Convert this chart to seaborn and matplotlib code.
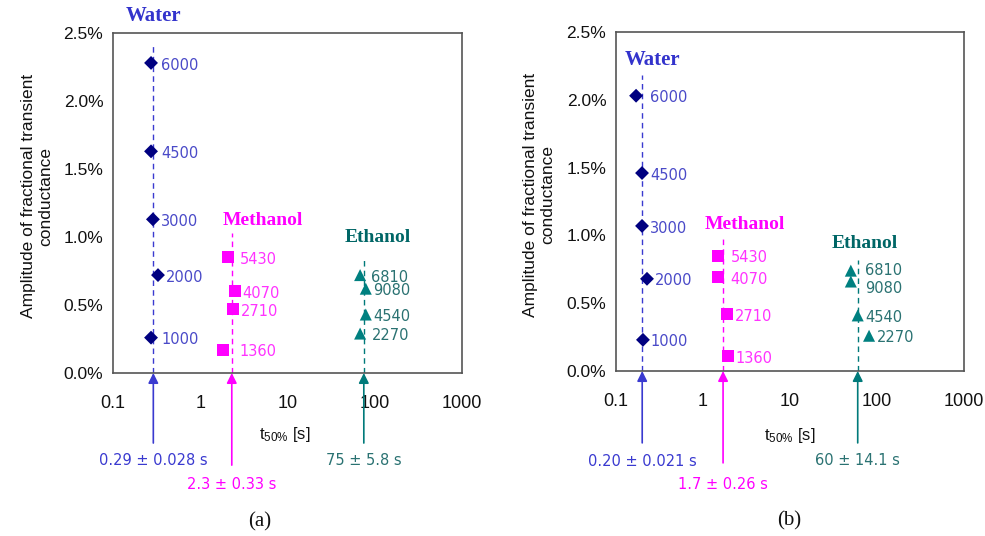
import numpy as np
import pandas as pd
import matplotlib
matplotlib.use('Agg')
import matplotlib.pyplot as plt
import seaborn as sns
from matplotlib.ticker import FixedLocator, FuncFormatter, NullLocator

# ---------------- data ----------------
solvents = ['Water', 'Methanol', 'Ethanol']

# Panel (a)
a_water_t = [0.273, 0.273, 0.287, 0.328, 0.273]
a_water_amp = [2.28, 1.63, 1.13, 0.72, 0.26]
a_meth_t = [2.08, 2.5, 2.37, 1.82]
a_meth_amp = [0.85, 0.60, 0.47, 0.17]
a_eth_t = [68, 79, 79, 68]
a_eth_amp = [0.72, 0.62, 0.43, 0.29]
a_mean_t = [0.29, 2.3, 75]
a_mean_lbl = ['0.29 \u00b1 0.028 s', '2.3 \u00b1 0.33 s', '75 \u00b1 5.8 s']

# Panel (b)
b_water_t = [0.170, 0.199, 0.199, 0.227, 0.204]
b_water_amp = [2.03, 1.46, 1.07, 0.68, 0.23]
b_meth_t = [1.49, 1.47, 1.89, 1.92]
b_meth_amp = [0.85, 0.69, 0.42, 0.11]
b_eth_t = [50, 50, 60, 81]
b_eth_amp = [0.74, 0.66, 0.41, 0.26]
b_mean_t = [0.20, 1.7, 60]
b_mean_lbl = ['0.20 \u00b1 0.021 s', '1.7 \u00b1 0.26 s', '60 \u00b1 14.1 s']

# point labels (same in both panels)
water_lbl = ['6000', '4500', '3000', '2000', '1000']
meth_lbl = ['5430', '4070', '2710', '1360']
eth_lbl = ['6810', '9080', '4540', '2270']

x_ticks = [0.1, 1, 10, 100, 1000]
x_ticklabels = ['0.1', '1', '10', '100', '1000']
y_ticks = [0.0, 0.5, 1.0, 1.5, 2.0, 2.5]

# ---------------- style ----------------
sns.set_theme(style='white')
plt.rcParams['font.family'] = ['Liberation Sans', 'DejaVu Sans']

marker_col = {'Water': '#000080', 'Methanol': '#ff00ff', 'Ethanol': '#008080'}
line_col = {'Water': '#3a3ad0', 'Methanol': '#ff00ff', 'Ethanol': '#007a7a'}
num_col = {'Water': '#4a4ac8', 'Methanol': '#ff33ff', 'Ethanol': '#2a7272'}
name_col = {'Water': '#3333cc', 'Methanol': '#ff00ff', 'Ethanol': '#006666'}
markers = {'Water': 'D', 'Methanol': 's', 'Ethanol': '^'}
msize = {'Water': 50, 'Methanol': 75, 'Ethanol': 75}

fig = plt.figure(figsize=(9.85, 5.36), dpi=100)
fig.patch.set_facecolor('white')

panels = [
    dict(rect=[0.1147, 0.3041, 0.3543, 0.6343], tag='(a)',
         t=[a_water_t, a_meth_t, a_eth_t], amp=[a_water_amp, a_meth_amp, a_eth_amp],
         mean_t=a_mean_t, mean_lbl=a_mean_lbl,
         line_top=[2.41, 1.03, 0.85],
         name_pos=[(0.29, 2.625), (5.24, 1.125), (109, 1.0)],
         arrow_bot=[-0.206, -0.271, -0.206], text_y=[-0.256, -0.329, -0.256],
         xlab=(0.493, -0.182), tagpos=(0.421, -0.438), ylabx=-0.172,
         nudge={}),
    dict(rect=[0.6254, 0.3078, 0.3533, 0.6325], tag='(b)',
         t=[b_water_t, b_meth_t, b_eth_t], amp=[b_water_amp, b_meth_amp, b_eth_amp],
         mean_t=b_mean_t, mean_lbl=b_mean_lbl,
         line_top=[2.18, 1.00, 0.82],
         name_pos=[(0.26, 2.29), (3.04, 1.08), (72.8, 0.94)],
         arrow_bot=[-0.212, -0.271, -0.212], text_y=[-0.268, -0.336, -0.263],
         xlab=(0.5, -0.189), tagpos=(0.497, -0.442), ylabx=-0.175,
         nudge={('Ethanol', '6810'): 1.5, ('Ethanol', '9080'): -3.5}),
]
labels_all = [water_lbl, meth_lbl, eth_lbl]

for p in panels:
    ax = fig.add_axes(p['rect'])
    ax.set_xscale('log')
    ax.set_xlim(0.1, 1000)
    ax.set_ylim(0, 2.5)

    rows = []
    for s, ts, amps, lbls, mt in zip(solvents, p['t'], p['amp'], labels_all, p['mean_t']):
        for tt, aa, ll in zip(ts, amps, lbls):
            rows.append(dict(solvent=s, t=tt, amp=aa, lbl=ll, mean=mt))
    df = pd.DataFrame(rows)

    # dashed mean lines
    for s, mt, top in zip(solvents, p['mean_t'], p['line_top']):
        ax.plot([mt, mt], [0, top], ls=(0, (4, 3)), lw=1.0, color=line_col[s], zorder=2)

    sns.scatterplot(data=df, x='t', y='amp', hue='solvent', style='solvent',
                    size='solvent', sizes=msize, palette=marker_col, markers=markers,
                    edgecolor='none', legend=False, ax=ax, zorder=3)

    for _, r in df.iterrows():
        dy = p['nudge'].get((r['solvent'], r['lbl']), 0.0)
        ax.annotate(r['lbl'], xy=(max(r['t'], r['mean']), r['amp']), xytext=(5.5, -1.5 + dy),
                    textcoords='offset points', ha='left', va='center',
                    fontsize=10.5, color=num_col[r['solvent']],
                    family=['DejaVu Sans'])

    # solvent names
    for s, (nx, ny) in zip(solvents, p['name_pos']):
        ax.text(nx, ny, s, ha='center', va='center', fontsize=15 if s == 'Water' else 14,
                fontweight='bold', family=['Liberation Serif'], color=name_col[s],
                clip_on=False)

    # arrows + mean labels
    tr = ax.get_xaxis_transform()
    for s, mt, ab, ty, lbl in zip(solvents, p['mean_t'], p['arrow_bot'], p['text_y'], p['mean_lbl']):
        ax.annotate('', xy=(mt, 0.0), xycoords=tr, xytext=(mt, ab), textcoords=tr,
                    arrowprops=dict(arrowstyle='-|>', color=line_col[s], lw=1.2,
                                    mutation_scale=15, shrinkA=0, shrinkB=0),
                    annotation_clip=False)
        ax.text(mt, ty, lbl, transform=tr, ha='center', va='center', fontsize=10.5,
                color=line_col[s] if s != 'Ethanol' else num_col[s],
                family=['DejaVu Sans'], clip_on=False)

    # axes styling
    ax.xaxis.set_major_locator(FixedLocator(x_ticks))
    ax.xaxis.set_minor_locator(NullLocator())
    ax.set_xticklabels(x_ticklabels)
    ax.yaxis.set_major_locator(FixedLocator(y_ticks))
    ax.yaxis.set_major_formatter(FuncFormatter(lambda v, pos: f'{v:.1f}%'))
    ax.tick_params(axis='both', direction='in', length=6, width=1, color='#555555',
                   labelsize=13, labelcolor='#111111')
    ax.tick_params(axis='x', pad=16)
    ax.tick_params(axis='y', pad=7)
    ax.tick_params(axis='y', labelsize=12.5)
    for sp in ax.spines.values():
        sp.set_visible(True)
        sp.set_color('#555555')
        sp.set_linewidth(1.2)
    ax.set_xlabel('')
    ax.set_ylabel('Amplitude of fractional transient\nconductance', fontsize=12.5,
                  color='#111111', linespacing=1.15)
    ax.yaxis.set_label_coords(p['ylabx'], 0.52)

    ax.text(p['xlab'][0], p['xlab'][1], r'$\mathregular{t_{50\%}}$ [s]',
            transform=ax.transAxes, ha='center', va='center', fontsize=12,
            color='#111111')
    ax.text(p['tagpos'][0], p['tagpos'][1], p['tag'], transform=ax.transAxes,
            ha='center', va='center', fontsize=15, family=['Liberation Serif'],
            color='#111111')

fig.savefig('out.png', dpi=100, facecolor='white')
